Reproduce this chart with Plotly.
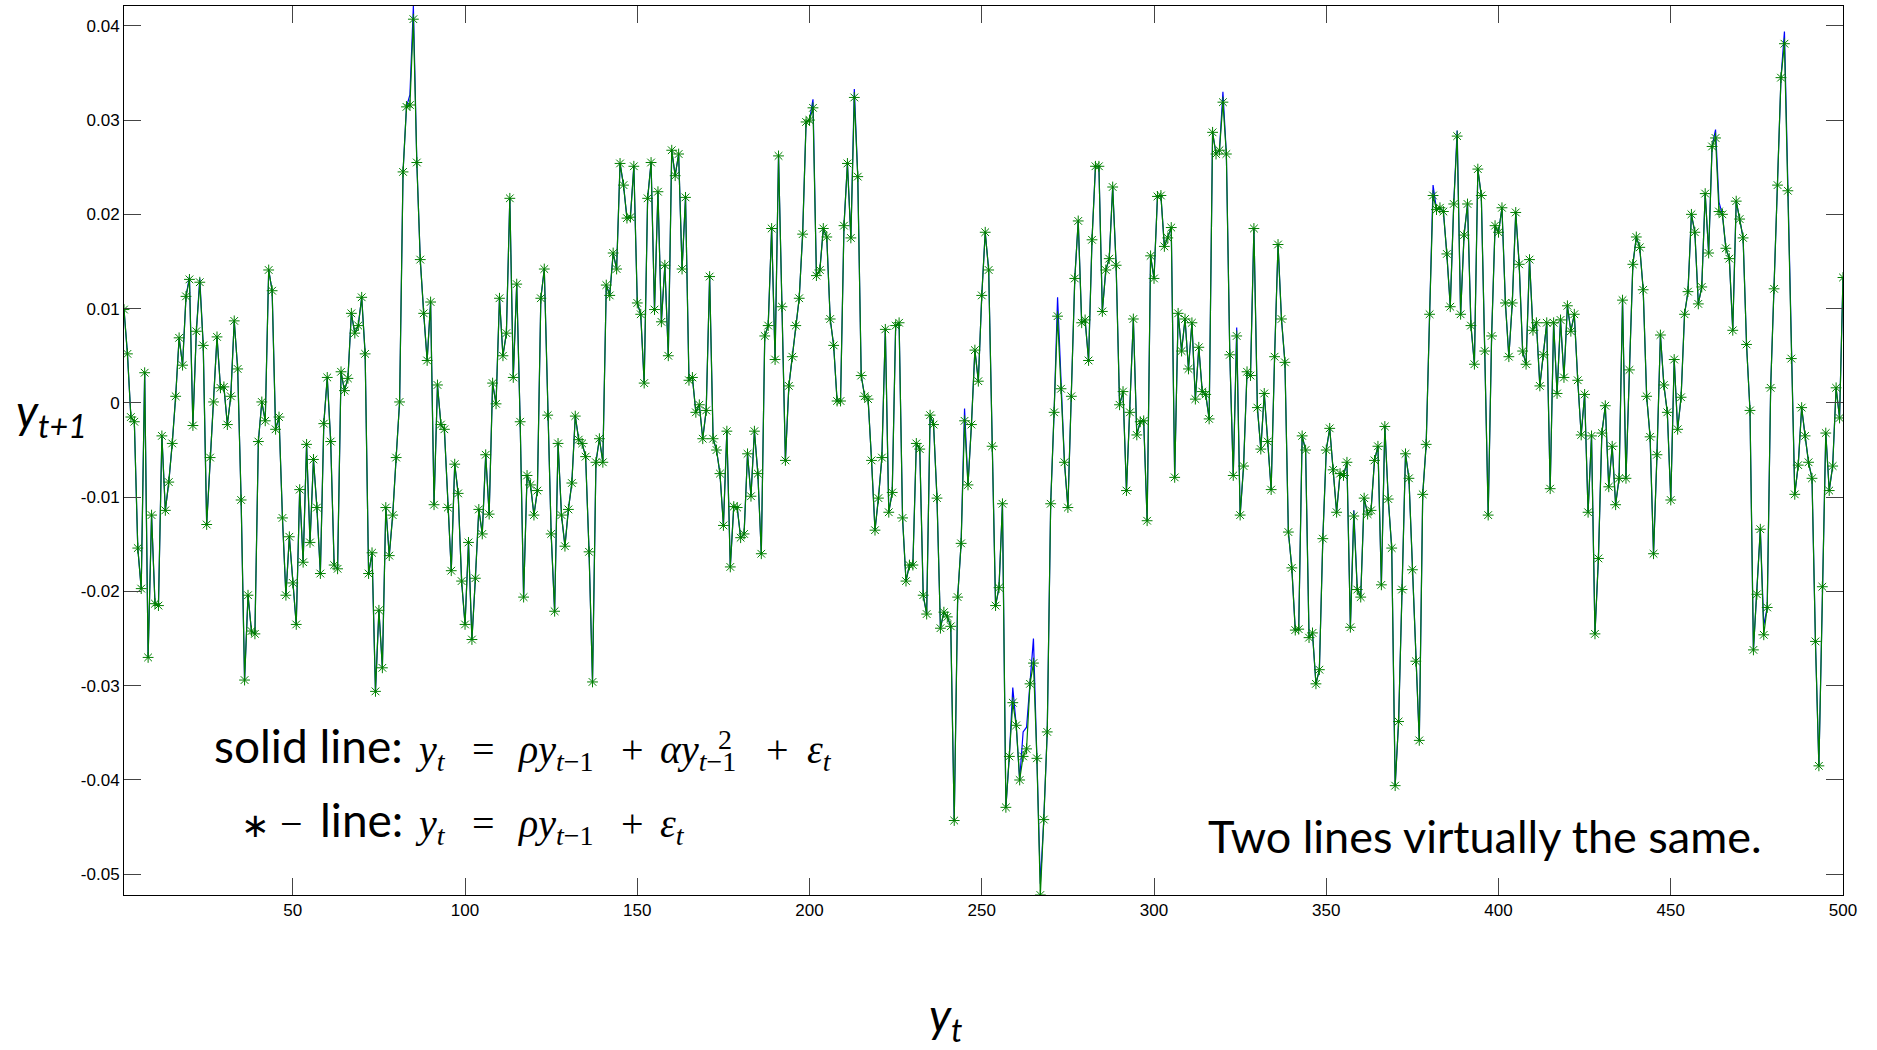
import plotly.graph_objects as go

# Canvas and plot-area geometry (pixels)
W, H = 1877, 1050
L, R, T, B = 124, 34, 6, 155

# Time index
t_index = list(range(1, 501))

# Simulated series from the linear AR(1) model (drawn as the *-line)
ar_linear = [
    0.0099, 0.0052, -0.0015, -0.0020, -0.0154, -0.0197, 0.0032, -0.0270, -0.0119, -0.0213,
    -0.0215, -0.0035, -0.0114, -0.0084, -0.0043, 0.0007, 0.0069, 0.0040, 0.0113, 0.0131,
    -0.0024, 0.0076, 0.0128, 0.0061, -0.0129, -0.0058, 0.0001, 0.0070, 0.0016, 0.0017,
    -0.0023, 0.0007, 0.0087, 0.0036, -0.0103, -0.0294, -0.0204, -0.0242, -0.0245, -0.0041,
    0.0001, -0.0019, 0.0141, 0.0119, -0.0028, -0.0015, -0.0122, -0.0204, -0.0142, -0.0191,
    -0.0235, -0.0092, -0.0169, -0.0044, -0.0148, -0.0060, -0.0111, -0.0181, -0.0022, 0.0027,
    -0.0041, -0.0172, -0.0176, 0.0033, 0.0013, 0.0026, 0.0095, 0.0074, 0.0082, 0.0112,
    0.0052, -0.0181, -0.0159, -0.0306, -0.0220, -0.0281, -0.0111, -0.0162, -0.0119, -0.0058,
    0.0001, 0.0245, 0.0314, 0.0316, 0.0407, 0.0255, 0.0152, 0.0095, 0.0045, 0.0107,
    -0.0108, 0.0019, -0.0023, -0.0028, -0.0111, -0.0178, -0.0065, -0.0096, -0.0189, -0.0235,
    -0.0148, -0.0251, -0.0186, -0.0113, -0.0139, -0.0055, -0.0118, 0.0021, -0.0001, 0.0111,
    0.0050, 0.0074, 0.0217, 0.0027, 0.0126, -0.0020, -0.0206, -0.0077, -0.0087, -0.0119,
    -0.0093, 0.0111, 0.0142, -0.0013, -0.0139, -0.0221, -0.0043, -0.0119, -0.0152, -0.0113,
    -0.0085, -0.0014, -0.0039, -0.0043, -0.0057, -0.0158, -0.0296, -0.0063, -0.0038, -0.0063,
    0.0125, 0.0114, 0.0159, 0.0142, 0.0254, 0.0231, 0.0196, 0.0197, 0.0251, 0.0106,
    0.0094, 0.0021, 0.0217, 0.0255, 0.0099, 0.0224, 0.0086, 0.0146, 0.0050, 0.0268,
    0.0241, 0.0264, 0.0142, 0.0218, 0.0024, 0.0027, -0.0010, -0.0002, -0.0038, -0.0008,
    0.0134, -0.0038, -0.0050, -0.0075, -0.0130, -0.0030, -0.0174, -0.0110, -0.0111, -0.0143,
    -0.0139, -0.0054, -0.0099, -0.0030, -0.0075, -0.0160, 0.0071, 0.0082, 0.0185, 0.0046,
    0.0262, 0.0102, -0.0061, 0.0018, 0.0049, 0.0082, 0.0111, 0.0179, 0.0298, 0.0300,
    0.0313, 0.0135, 0.0141, 0.0185, 0.0176, 0.0089, 0.0061, 0.0002, 0.0002, 0.0188,
    0.0254, 0.0175, 0.0324, 0.0240, 0.0029, 0.0007, 0.0004, -0.0061, -0.0135, -0.0101,
    -0.0058, 0.0078, -0.0116, -0.0095, 0.0082, 0.0085, -0.0122, -0.0189, -0.0172, -0.0172,
    -0.0043, -0.0049, -0.0204, -0.0224, -0.0013, -0.0023, -0.0101, -0.0239, -0.0222, -0.0227,
    -0.0237, -0.0443, -0.0206, -0.0149, -0.0019, -0.0087, -0.0023, 0.0056, 0.0023, 0.0114,
    0.0181, 0.0141, -0.0046, -0.0215, -0.0196, -0.0107, -0.0429, -0.0375, -0.0318, -0.0342,
    -0.0400, -0.0375, -0.0367, -0.0298, -0.0276, -0.0377, -0.0522, -0.0442, -0.0349, -0.0107,
    -0.0010, 0.0092, 0.0015, -0.0063, -0.0111, 0.0007, 0.0132, 0.0193, 0.0085, 0.0088,
    0.0045, 0.0173, 0.0251, 0.0251, 0.0097, 0.0141, 0.0153, 0.0229, 0.0146, -0.0002,
    0.0012, -0.0093, -0.0010, 0.0089, -0.0034, -0.0020, -0.0019, -0.0125, 0.0156, 0.0132,
    0.0219, 0.0220, 0.0166, 0.0175, 0.0186, -0.0079, 0.0095, 0.0055, 0.0089, 0.0036,
    0.0085, 0.0004, 0.0059, 0.0012, 0.0009, -0.0017, 0.0287, 0.0264, 0.0268, 0.0319,
    0.0264, 0.0051, -0.0077, 0.0071, -0.0119, -0.0067, 0.0033, 0.0029, 0.0185, -0.0005,
    -0.0049, 0.0010, -0.0041, -0.0092, 0.0049, 0.0168, 0.0089, 0.0043, -0.0137, -0.0175,
    -0.0241, -0.0240, -0.0035, -0.0050, -0.0249, -0.0244, -0.0298, -0.0283, -0.0144, -0.0050,
    -0.0027, -0.0071, -0.0116, -0.0075, -0.0077, -0.0063, -0.0238, -0.0120, -0.0198, -0.0206,
    -0.0101, -0.0118, -0.0114, -0.0061, -0.0046, -0.0193, -0.0025, -0.0102, -0.0154, -0.0406,
    -0.0338, -0.0198, -0.0054, -0.0080, -0.0177, -0.0274, -0.0358, -0.0097, -0.0044, 0.0094,
    0.0220, 0.0205, 0.0207, 0.0203, 0.0158, 0.0102, 0.0211, 0.0283, 0.0094, 0.0178,
    0.0211, 0.0082, 0.0041, 0.0248, 0.0220, 0.0055, -0.0119, 0.0071, 0.0188, 0.0181,
    0.0207, 0.0106, 0.0049, 0.0106, 0.0202, 0.0147, 0.0055, 0.0041, 0.0152, 0.0077,
    0.0085, 0.0018, 0.0051, 0.0085, -0.0091, 0.0085, 0.0010, 0.0088, 0.0027, 0.0103,
    0.0076, 0.0094, 0.0024, -0.0034, 0.0009, -0.0116, -0.0035, -0.0245, -0.0165, -0.0032,
    -0.0003, -0.0089, -0.0046, -0.0108, -0.0080, 0.0109, -0.0080, 0.0035, 0.0147, 0.0176,
    0.0165, 0.0120, 0.0007, -0.0036, -0.0160, -0.0055, 0.0072, 0.0019, -0.0010, -0.0103,
    0.0046, -0.0028, 0.0006, 0.0094, 0.0118, 0.0200, 0.0181, 0.0105, 0.0123, 0.0222,
    0.0159, 0.0272, 0.0281, 0.0203, 0.0200, 0.0164, 0.0153, 0.0077, 0.0214, 0.0195,
    0.0175, 0.0062, -0.0008, -0.0262, -0.0203, -0.0134, -0.0246, -0.0217, 0.0016, 0.0121,
    0.0231, 0.0345, 0.0381, 0.0225, 0.0047, -0.0097, -0.0066, -0.0005, -0.0035, -0.0063,
    -0.0080, -0.0253, -0.0385, -0.0195, -0.0032, -0.0093, -0.0067, 0.0016, -0.0016, 0.0133,
]

# Quadratic-model series (solid line): identical except at these time steps
ar_quadratic_diffs = {
    20: 0.0134, 23: 0.0132, 84: 0.0327, 85: 0.0421, 201: 0.0322, 213: 0.0333,
    245: -0.0006, 259: -0.0302, 262: -0.0349, 263: -0.0344, 265: -0.0250,
    267: -0.0510, 272: 0.0112, 320: 0.0330, 324: 0.0080, 358: -0.0114,
    381: 0.0231, 388: 0.0289, 463: 0.0290, 464: 0.0213, 477: -0.0236, 483: 0.0394,
}
ar_quadratic = [ar_quadratic_diffs.get(t, v) for t, v in zip(t_index, ar_linear)]

# Axis ticks
x_tick_vals = [50, 100, 150, 200, 250, 300, 350, 400, 450, 500]
x_tick_text = [str(v) for v in x_tick_vals]
y_tick_vals = [-0.05, -0.04, -0.03, -0.02, -0.01, 0.0, 0.01, 0.02, 0.03, 0.04]
y_tick_text = ["-0.05", "-0.04", "-0.03", "-0.02", "-0.01", "0", "0.01", "0.02", "0.03", "0.04"]

y_lo = min(ar_linear + ar_quadratic)
y_hi = max(ar_linear + ar_quadratic)

fig = go.Figure()
fig.add_trace(go.Scatter(
    x=t_index, y=ar_quadratic, mode="lines",
    line=dict(color="#0000FF", width=1.2), hoverinfo="skip",
))
fig.add_trace(go.Scatter(
    x=t_index, y=ar_linear, mode="lines+markers",
    line=dict(color="#008000", width=1.2),
    marker=dict(symbol="asterisk-open", size=9, color="#008000",
                line=dict(color="#008000", width=1)),
    hoverinfo="skip",
))


def paper(xp, yp):
    """Pixel position on the page -> paper coordinates."""
    return (xp - L) / (W - L - R), 1 - (yp - T) / (H - T - B)


SERIF = "Liberation Serif"
SANS = "Lato"
annotations = []


def add_text(text, xp, yp, family, size, yanchor="top", xanchor="left"):
    px_, py_ = paper(xp, yp)
    annotations.append(dict(
        text=text, x=px_, y=py_, xref="paper", yref="paper",
        xanchor=xanchor, yanchor=yanchor, showarrow=False,
        borderpad=0, borderwidth=0,
        font=dict(family=family, size=size, color="black"),
    ))


# Formula lines: baselines at 763 and 837 px
SERIF_SIZE = 40
SANS_SIZE = 46
serif_top = 0.891 * SERIF_SIZE
sans_top = 0.987 * SANS_SIZE

base1, base2 = 763, 837
add_text("solid line:", 214, base1 - sans_top, SANS, SANS_SIZE)
add_text("<i>y</i><sub><i>t</i></sub>", 414.5, base1 - serif_top, SERIF, SERIF_SIZE)
add_text("=", 472, base1 - serif_top, SERIF, SERIF_SIZE)
add_text("<i>ρy</i><sub><i>t</i>−1</sub>", 516.6, base1 - serif_top, SERIF, SERIF_SIZE)
add_text("+", 621, base1 - serif_top, SERIF, SERIF_SIZE)
add_text("<i>αy</i><sub><i>t</i>−1</sub>", 660, base1 - serif_top, SERIF, SERIF_SIZE)
add_text("2", 718, 739, SERIF, 28, yanchor="middle")
add_text("+", 766, base1 - serif_top, SERIF, SERIF_SIZE)
add_text("<i>ε</i><sub><i>t</i></sub>", 806.5, base1 - serif_top, SERIF, SERIF_SIZE)

add_text("∗", 241, 825, "DejaVu Sans", 34, yanchor="middle")
add_text("−", 280, base2 - serif_top, SERIF, SERIF_SIZE)
add_text("line:", 320, base2 - sans_top, SANS, SANS_SIZE)
add_text("<i>y</i><sub><i>t</i></sub>", 414.5, base2 - serif_top, SERIF, SERIF_SIZE)
add_text("=", 472, base2 - serif_top, SERIF, SERIF_SIZE)
add_text("<i>ρy</i><sub><i>t</i>−1</sub>", 516.6, base2 - serif_top, SERIF, SERIF_SIZE)
add_text("+", 621, base2 - serif_top, SERIF, SERIF_SIZE)
add_text("<i>ε</i><sub><i>t</i></sub>", 660, base2 - serif_top, SERIF, SERIF_SIZE)

add_text("Two lines virtually the same.", 1208, 853 - 0.987 * 45, SANS, 45)

# Axis titles
add_text("<i>y</i><sub><i>t+1</i></sub>", 16, 428 - 0.987 * 46, SANS, 46)
add_text("<i>y</i><sub><i>t</i></sub>", 929, 1032 - 0.987 * 46, SANS, 46)

axis_common = dict(
    showline=True, linecolor="black", linewidth=1, mirror="ticks",
    ticks="inside", ticklen=17, tickwidth=1, tickcolor="#444444",
    showgrid=False, zeroline=False,
    tickfont=dict(family="Liberation Sans", size=17, color="black"),
)

fig.update_layout(
    width=W, height=H,
    margin=dict(l=L, r=R, t=T, b=B, pad=0),
    paper_bgcolor="white", plot_bgcolor="white",
    showlegend=False,
    xaxis=dict(range=[1, 500], tickvals=x_tick_vals, ticktext=x_tick_text, **axis_common),
    yaxis=dict(range=[y_lo, y_hi], tickvals=y_tick_vals, ticktext=y_tick_text, **axis_common),
    annotations=annotations,
)

fig.write_html("out.html")
